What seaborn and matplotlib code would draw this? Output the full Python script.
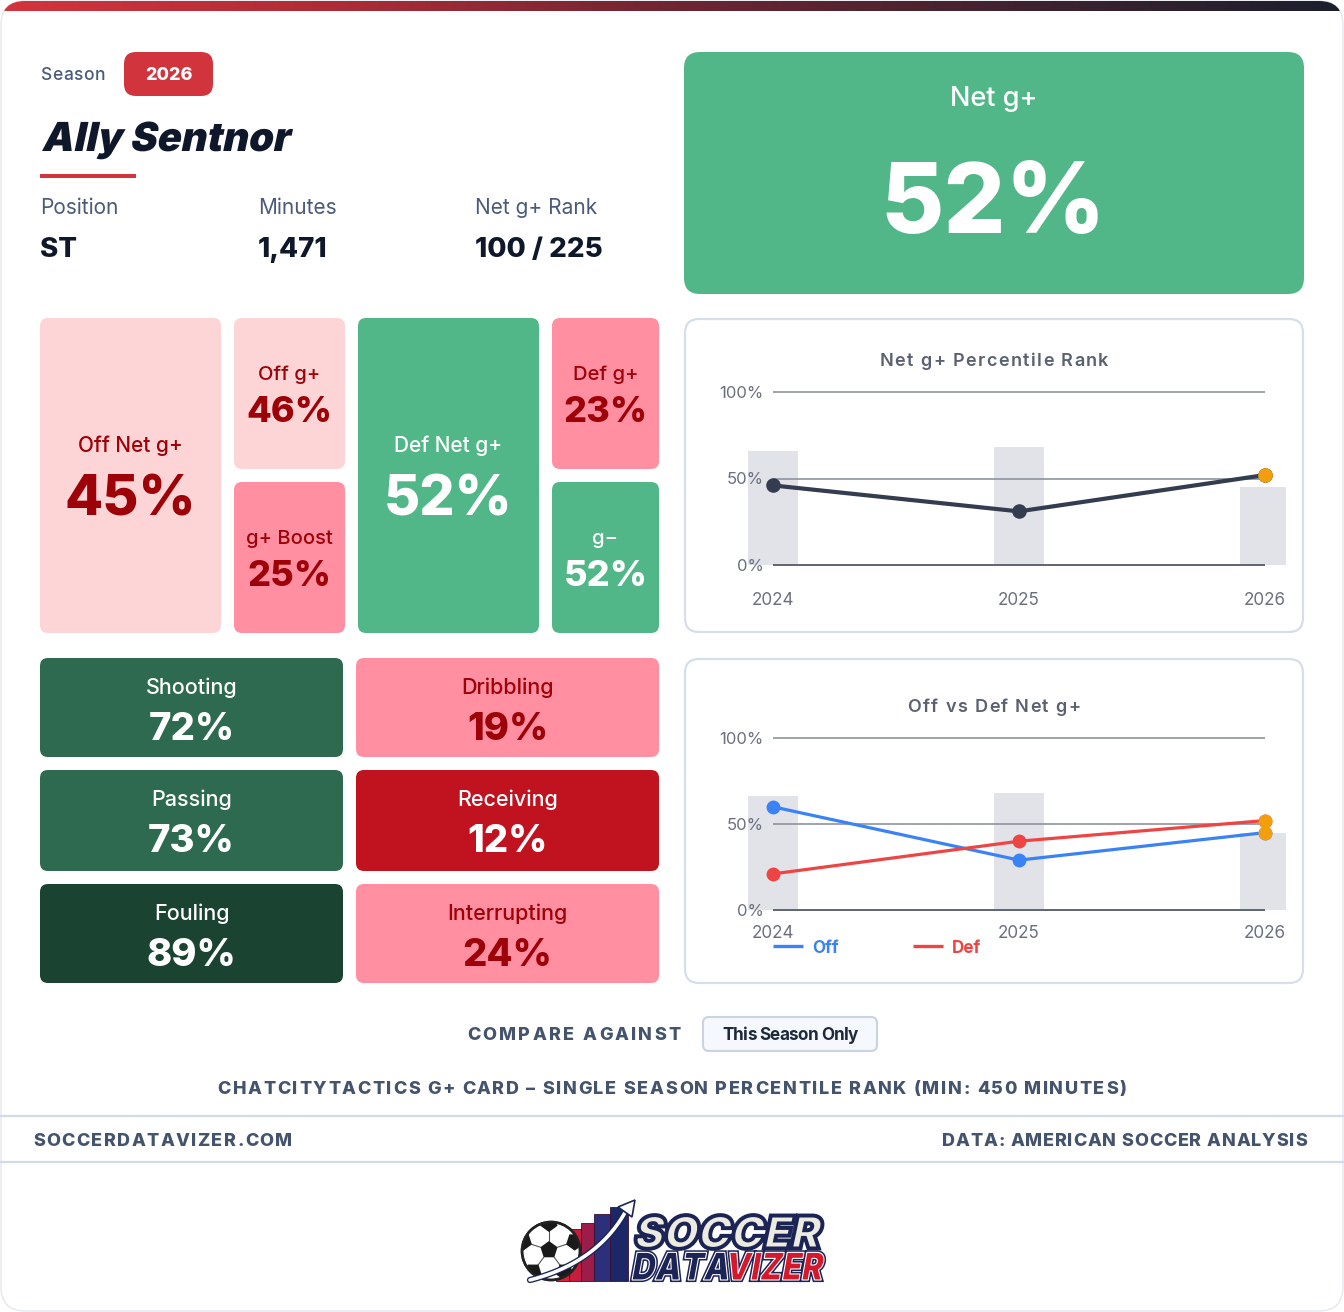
import numpy as np
import pandas as pd
import matplotlib
matplotlib.use("Agg")
import matplotlib.pyplot as plt
import seaborn as sns
from matplotlib.patches import FancyBboxPatch, Rectangle, Circle, Polygon, PathPatch
from matplotlib.colors import LinearSegmentedColormap
from matplotlib.font_manager import FontProperties, findfont, get_font
from matplotlib.textpath import TextPath
from matplotlib.transforms import Affine2D
import matplotlib.patheffects as pe

sns.set_theme(style="white")
FAMILY = ['Inter', 'DejaVu Sans']
plt.rcParams['font.family'] = FAMILY

# ---------------- data ----------------
SEASON = "2026"
PLAYER = "Ally Sentnor"
INFO_LABELS = ["Position", "Minutes", "Net g+ Rank"]
INFO_VALUES = ["ST", "1,471", "100 / 225"]
NET_G_PLUS = 52
TOP_LABELS = ["Off Net g+", "Off g+", "g+ Boost", "Def Net g+", "Def g+", "g\u2212"]
TOP_VALUES = [45, 46, 25, 52, 23, 52]
SKILL_LABELS = ["Shooting", "Dribbling", "Passing", "Receiving", "Fouling", "Interrupting"]
SKILL_VALUES = [72, 19, 73, 12, 89, 24]
SEASONS = ["2024", "2025", "2026"]
MINUTES_SHARE = [66, 68, 45]
NET_RANK = [46, 31, 52]
OFF_RANK = [60, 29, 45]
DEF_RANK = [21, 40, 52]
Y_TICKS = [0, 50, 100]
Y_TICK_LABELS = ["0%", "50%", "100%"]
CHART_TITLES = ["Net g+ Percentile Rank", "Off vs Def Net g+"]
LEGEND_LABELS = ["Off", "Def"]
COMPARE_LABEL = "COMPARE AGAINST"
COMPARE_OPTION = "This Season Only"
FOOTNOTE = "CHATCITYTACTICS G+ CARD \u2013 SINGLE SEASON PERCENTILE RANK (MIN: 450 MINUTES)"
SITE = "SOCCERDATAVIZER.COM"
SOURCE = "DATA: AMERICAN SOCCER ANALYSIS"

# ---------------- colours ----------------
INK = '#0f172a'
SLATE = '#4a5a78'
FOOT = '#44546c'
DARKRED = '#9d0208'
RED = '#d1343c'
BLUE = '#3b82f6'
LRED = '#ef4444'
ORANGE = '#f59e0b'
NAVYLINE = '#343d4f'
BARGREY = '#e2e3e8'


def tile_colors(v):
    if v >= 85:
        return '#1b4332', 'white'
    if v >= 70:
        return '#2d6a4f', 'white'
    if v >= 50:
        return '#52b788', 'white'
    if v >= 40:
        return '#fed5d6', DARKRED
    if v >= 15:
        return '#ff8fa1', DARKRED
    return '#c1121f', 'white'


W, H = 1344, 1312
fig = plt.figure(figsize=(W / 100, H / 100), dpi=100)
fig.patch.set_facecolor('white')
bg = fig.add_axes([0, 0, 1, 1])
bg.set_xlim(0, W)
bg.set_ylim(H, 0)
bg.axis('off')


def rbox(x0, y0, x1, y1, fc, r=8, ec='none', lw=0, z=1):
    p = FancyBboxPatch((x0, y0), x1 - x0, y1 - y0,
                       boxstyle=f"round,pad=0,rounding_size={r}",
                       fc=fc, ec=ec, lw=lw, zorder=z)
    bg.add_patch(p)
    return p


def txt(x, y, s, size, weight='normal', color=INK, ha='left', va='baseline', z=5):
    return bg.text(x, y, s, fontsize=size, fontweight=weight, color=color,
                   ha=ha, va=va, fontfamily=FAMILY, zorder=z)


def spaced(x, y, s, size, weight='bold', color=FOOT, ha='left', width=None, spacing=0.0, z=5):
    fp = FontProperties(family=FAMILY, weight=weight, size=size)
    font = get_font(findfont(fp))
    font.set_size(size, 100)
    adv = [font.load_char(ord(c)).linearHoriAdvance / 65536.0 for c in s]
    n = len(s)
    if width is not None and n > 1:
        spacing = (width - sum(adv)) / (n - 1)
    total = sum(adv) + spacing * (n - 1)
    if ha == 'center':
        x0 = x - total / 2
    elif ha == 'right':
        x0 = x - total
    else:
        x0 = x
    cx = x0
    for c, a in zip(s, adv):
        if c != ' ':
            bg.text(cx, y, c, fontproperties=fp, color=color, ha='left', va='baseline', zorder=z)
        cx += a + spacing


def path_text(s, x, y, size, weight='black', width=None, skew=12, fc=INK, ec='none', lw=0,
              z=6, effects=None, sx=None):
    fp = FontProperties(family=FAMILY, weight=weight)
    tp = TextPath((0, 0), s, size=size, prop=fp)
    p = Affine2D().skew_deg(skew, 0).transform_path(tp)
    e = p.get_extents()
    if sx is None:
        sx = width / e.width if width else 1.0
    final = Affine2D().translate(-e.x0, 0).scale(sx, -1).translate(x, y).transform_path(p)
    patch = PathPatch(final, fc=fc, ec=ec, lw=lw, zorder=z)
    if effects:
        patch.set_path_effects(effects)
    bg.add_patch(patch)
    return e.width * sx, sx


# ---------------- card & header bar ----------------
card = rbox(1, 1, W - 1, H - 1, 'white', r=24, ec='#e4e8ee', lw=1, z=0)
grad = np.linspace(0, 1, 800)[None, :]
cmap = LinearSegmentedColormap.from_list(
    'top', [(0, '#d4343d'), (0.25, '#ad2c37'), (0.5, '#6f2532'), (0.75, '#41222f'), (1, '#1c1f2d')])
im = bg.imshow(grad, extent=[0, W, 11, 0], aspect='auto', cmap=cmap, zorder=2,
               interpolation='bilinear')
im.set_clip_path(card)
bg.set_xlim(0, W)
bg.set_ylim(H, 0)

# ---------------- player header ----------------
spaced(40, 80, "Season", 12.5, weight='medium', color=SLATE, spacing=0.7)
rbox(124, 52, 213, 96, RED, r=12, z=2)
txt(168.5, 80, SEASON, 13, weight='heavy', color='white', ha='center')
path_text(PLAYER, 42, 151, 40, weight='black', width=251, fc=INK)
bg.add_patch(Rectangle((40, 174), 96, 3.5, fc=RED, ec='none', zorder=2))
for xx, lab, val in zip([40, 258, 475], INFO_LABELS, INFO_VALUES):
    txt(xx, 214, lab, 15, weight='normal', color=SLATE)
    txt(xx, 257, val, 20, weight='heavy', color=INK)

# ---------------- Net g+ box ----------------
fc, tc = tile_colors(NET_G_PLUS)
rbox(684, 52, 1304, 294, fc, r=16, z=1)
txt(994, 106, "Net g+", 19.5, weight='medium', color=tc, ha='center')
txt(993, 233, f"{NET_G_PLUS}%", 70, weight='heavy', color=tc, ha='center')

# ---------------- component tiles ----------------
TOP_BOXES = [(40, 318, 221, 633), (234, 318, 345, 469), (234, 482, 345, 633),
             (358, 318, 539, 633), (552, 318, 659, 469), (552, 482, 659, 633)]
for (x0, y0, x1, y1), lab, val in zip(TOP_BOXES, TOP_LABELS, TOP_VALUES):
    fc, tc = tile_colors(val)
    rbox(x0, y0, x1, y1, fc, r=8, z=1)
    cx = (x0 + x1) / 2
    if y1 - y0 > 200:
        txt(cx, y0 + 134, lab, 15, weight='medium', color=tc, ha='center')
        txt(cx, y0 + 198, f"{val}%", 40, weight='heavy', color=tc, ha='center')
    else:
        txt(cx, y0 + 62, lab, 14.5, weight='medium', color=tc, ha='center')
        txt(cx, y0 + 104, f"{val}%", 26, weight='heavy', color=tc, ha='center')

SKILL_BOXES = [(40, 658, 343, 757), (356, 658, 659, 757), (40, 770, 343, 871),
               (356, 770, 659, 871), (40, 884, 343, 983), (356, 884, 659, 983)]
for (x0, y0, x1, y1), lab, val in zip(SKILL_BOXES, SKILL_LABELS, SKILL_VALUES):
    fc, tc = tile_colors(val)
    rbox(x0, y0, x1, y1, fc, r=8, z=1)
    cx = (x0 + x1) / 2
    txt(cx, y0 + 36, lab, 15.5, weight='medium', color=tc, ha='center')
    txt(cx, y0 + 82, f"{val}%", 27.5, weight='heavy', color=tc, ha='center')

# ---------------- trend charts ----------------
df = pd.DataFrame({'season': SEASONS, 'minutes': MINUTES_SHARE, 'net': NET_RANK,
                   'off': OFF_RANK, 'def': DEF_RANK})
X0PX, XSTEP = 773, 246
L, R = 740, 1286


def make_chart(panel, zero_px, hund_px, T, B, title_y, title, xlab_y):
    x0, y0, x1, y1 = panel
    rbox(x0, y0, x1, y1, 'white', r=14, ec='#d6deea', lw=1.6, z=1)
    tw = {CHART_TITLES[0]: 229, CHART_TITLES[1]: 173}[title]
    spaced((x0 + x1) / 2, title_y, title, 13, weight='semibold', color='#5b6170', ha='center', width=tw)
    ax = fig.add_axes([L / W, 1 - B / H, (R - L) / W, (B - T) / H])
    ax.patch.set_alpha(0)
    sc = (zero_px - hund_px) / 100.0
    sns.barplot(data=df, x='season', y='minutes', order=SEASONS, color=BARGREY, saturation=1,
                width=50 / XSTEP, errorbar=None, linewidth=0, ax=ax, zorder=1)
    ax.hlines(Y_TICKS[1:], 0, len(SEASONS) - 1, colors='#8e939d', lw=1.2, zorder=2)
    ax.hlines([Y_TICKS[0]], 0, len(SEASONS) - 1, colors='#5f6571', lw=1.4, zorder=2)
    for v, lab in zip(Y_TICKS, Y_TICK_LABELS):
        ax.text((764 - X0PX) / XSTEP, v - 0.8, lab, fontsize=12, color='#6b7080', ha='right',
                va='center', fontfamily=FAMILY, zorder=6)
    for i, s in enumerate(SEASONS):
        ax.text(i, (zero_px - xlab_y) / sc, s, fontsize=12.3, color='#6b7080', ha='center',
                va='center', fontfamily=FAMILY, zorder=6)
    return ax, sc, (zero_px - B) / sc, (zero_px - T) / sc


def finish(ax, ylo, yhi):
    ax.set_xlim((L - X0PX) / XSTEP, (R - X0PX) / XSTEP)
    ax.set_ylim(ylo, yhi)
    ax.set_axis_off()


cur = df[df['season'] == SEASON]

ax1, sc1, lo1, hi1 = make_chart((685, 319, 1303, 632), 565, 392, 376, 572, 366,
                                CHART_TITLES[0], 600)
sns.pointplot(data=df, x='season', y='net', order=SEASONS, color=NAVYLINE, markers='o',
              errorbar=None, ax=ax1, markersize=10.5, linewidth=3, markeredgewidth=0, zorder=4)
sns.pointplot(data=cur, x='season', y='net', order=SEASONS, color=ORANGE, markers='o',
              errorbar=None, ax=ax1, markersize=10.5, linewidth=0, markeredgewidth=0, zorder=5)
finish(ax1, lo1, hi1)

ax2, sc2, lo2, hi2 = make_chart((685, 659, 1303, 983), 910, 738, 722, 918, 712,
                                CHART_TITLES[1], 933)
sns.pointplot(data=df, x='season', y='off', order=SEASONS, color=BLUE, markers='o',
              errorbar=None, ax=ax2, markersize=10, linewidth=2.3, markeredgewidth=0, zorder=4)
sns.pointplot(data=df, x='season', y='def', order=SEASONS, color=LRED, markers='o',
              errorbar=None, ax=ax2, markersize=10, linewidth=2.3, markeredgewidth=0, zorder=4.5)
for col in ['off', 'def']:
    sns.pointplot(data=cur, x='season', y=col, order=SEASONS, color=ORANGE, markers='o',
                  errorbar=None, ax=ax2, markersize=10, linewidth=0, markeredgewidth=0, zorder=5)
finish(ax2, lo2, hi2)

# legend of chart 2
for (lx, col), lab in zip([(773, BLUE), (913, LRED)], LEGEND_LABELS):
    bg.plot([lx, lx + 30], [946, 946], color=col, lw=2.4, solid_capstyle='butt', zorder=5)
    txt(lx + 39, 953, lab, 12.3, weight='bold', color=col)

# ---------------- footer ----------------
spaced(467, 1040, COMPARE_LABEL, 13, weight='heavy', color=FOOT, width=214)
rbox(703, 1017, 877, 1051, '#f5f8fd', r=6, ec='#c9d3e2', lw=1.5, z=2)
spaced(790, 1040, COMPARE_OPTION, 12.3, weight='bold', color='#1e293b', ha='center', width=136)
spaced(672, 1094, FOOTNOTE, 13, weight='heavy', color=FOOT, ha='center', width=909)
bg.plot([0, W], [1116, 1116], color='#d3dbe6', lw=1.6, zorder=3)
bg.plot([0, W], [1162, 1162], color='#d3dbe6', lw=1.6, zorder=3)
spaced(33, 1146, SITE, 13, weight='heavy', color=FOOT, width=259)
spaced(1307, 1146, SOURCE, 13, weight='heavy', color=FOOT, ha='right', width=365)

# ---------------- logo ----------------
NAVY = '#1c2456'
logo_bars = [(556, 569, 1234, '#d8203a'), (569, 581, 1229, '#c71d3d'), (581, 594, 1223, '#9c1c4a'),
             (594, 610, 1214, '#2b2f7c'), (610, 628, 1207, '#1b2766')]
for bx0, bx1, top, col in logo_bars:
    bg.add_patch(Rectangle((bx0, top), bx1 - bx0, 1281 - top, fc=col, ec='#3a1030', lw=0.6, zorder=3))
BC = (551, 1251)
ball = Circle(BC, 29, fc='white', ec='#222222', lw=1.8, zorder=4)
bg.add_patch(ball)


def pent(cx, cy, r, rot=-90):
    ang = np.deg2rad(np.arange(5) * 72 + rot)
    return np.c_[cx + r * np.cos(ang), cy + r * np.sin(ang)]


bg.add_patch(Polygon(pent(BC[0] - 2, BC[1] - 1, 9), fc='#1a1a1a', ec='none', zorder=5))
for k in range(5):
    a = -90 + k * 72
    ra = np.deg2rad(a)
    vx, vy = BC[0] - 2 + 9 * np.cos(ra), BC[1] - 1 + 9 * np.sin(ra)
    ox, oy = BC[0] - 2 + 27 * np.cos(ra), BC[1] - 1 + 27 * np.sin(ra)
    seam = bg.plot([vx, ox], [vy, oy], color='#555555', lw=0.8, zorder=4.5)[0]
    seam.set_clip_path(ball)
    pg = Polygon(pent(ox, oy, 9, rot=a + 180), fc='#1a1a1a', ec='none', zorder=5)
    bg.add_patch(pg)
    pg.set_clip_path(ball)
bg.add_patch(Circle(BC, 29, fc='none', ec='#222222', lw=1.8, zorder=5.5))
# arrow
tt = np.linspace(0, 1, 40)
p0, p1, p2 = np.array([530, 1280]), np.array([600, 1262]), np.array([628, 1207])
curve = (1 - tt)[:, None] ** 2 * p0 + 2 * ((1 - tt) * tt)[:, None] * p1 + (tt ** 2)[:, None] * p2
bg.plot(curve[:, 0], curve[:, 1], color='white', lw=2.6, solid_capstyle='round', zorder=6,
        path_effects=[pe.Stroke(linewidth=4.5, foreground=NAVY), pe.Normal()])
bg.add_patch(Polygon([[635, 1200], [618, 1207], [632, 1217]], fc='white', ec=NAVY, lw=1.2, zorder=6.5))
# words
path_text("SOCCER", 636, 1248, 44, weight='black', width=186, fc='#ecebdf', ec=NAVY, lw=2.2,
          z=7, effects=[pe.Stroke(linewidth=3.5, foreground=NAVY), pe.Normal()])
w_data, s_data = path_text("DATA", 632, 1280, 38, weight='black', width=None, fc=NAVY, ec='white',
                           lw=0.8, z=7, effects=[pe.Stroke(linewidth=3, foreground=NAVY), pe.Normal()],
                           sx=0.86)
path_text("VIZER", 632 + w_data + 2, 1280, 38, weight='black', width=824 - (632 + w_data + 2),
          fc='#d6182c', ec='white', lw=0.8, z=7,
          effects=[pe.Stroke(linewidth=3, foreground=NAVY), pe.Normal()])

fig.savefig('out.png', dpi=100, facecolor='white')
